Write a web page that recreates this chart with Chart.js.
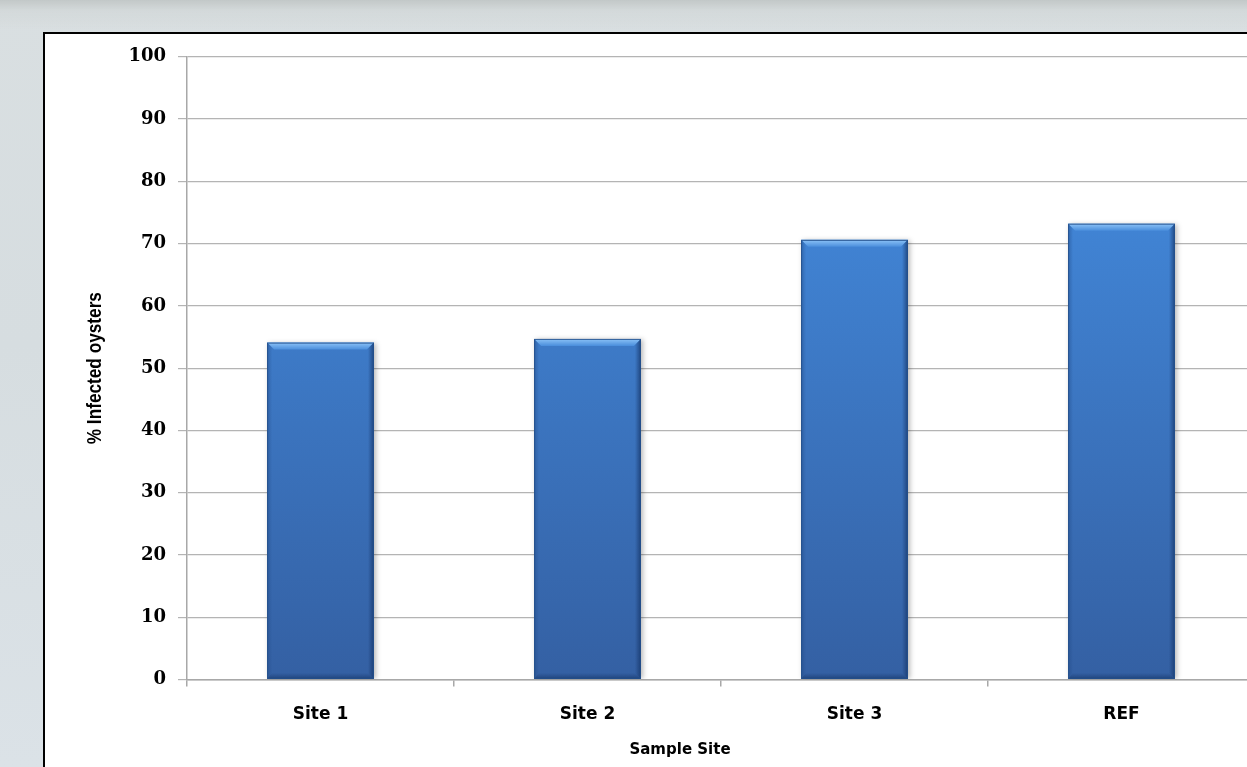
<!DOCTYPE html>
<html>
<head>
<meta charset="utf-8">
<script src="https://cdn.jsdelivr.net/npm/chart.js@4.4.1/dist/chart.umd.min.js"></script>
<style>
  html, body { margin: 0; padding: 0; width: 1247px; height: 767px; overflow: hidden; }
  body {
    background:
      linear-gradient(to bottom, rgba(175,180,178,0.55) 0px, rgba(200,205,204,0.35) 10px, rgba(220,226,228,0) 30px),
      linear-gradient(to bottom, #d9dfe1 0%, #d6dde0 45%, #dbe2e7 100%);
  }
  #panel {
    position: absolute; left: 43px; top: 32px;
    border: 2px solid #000; border-right: none; border-bottom: none;
    background: #fff;
    width: 1230px; height: 740px;
  }
  canvas { display: block; }
</style>
</head>
<body>
<div id="panel"><canvas id="c" width="1230" height="740"></canvas></div>
<script>
// Share of infected oysters per sampling site
const categories = ['Site 1', 'Site 2', 'Site 3', 'REF'];
const infectedPct = [54.1, 54.7, 70.6, 73.2];
const yMin = 0, yMax = 100, yStep = 10;
const xTitle = 'Sample Site';
const yTitle = '% Infected oysters';

// fill gradient for the bars (lighter blue at top, deeper blue at base)
function barFill(ctx) {
  const area = ctx.chart.chartArea;
  if (!area) return '#3b74c0';
  const g = ctx.chart.ctx.createLinearGradient(0, area.top + 150, 0, area.bottom);
  g.addColorStop(0, '#4185d6');
  g.addColorStop(1, '#3460a3');
  return g;
}

// soft shadow under bars + bevelled edges drawn on top of each bar element
const bevelPlugin = {
  id: 'bevel',
  beforeDatasetsDraw(chart) {
    const c = chart.ctx;
    c.save();
    c.shadowColor = 'rgba(0,0,0,0.28)';
    c.shadowBlur = 5;
    c.shadowOffsetX = 2;
    c.shadowOffsetY = 0;
  },
  afterDatasetsDraw(chart) {
    const c = chart.ctx;
    c.restore();
    const meta = chart.getDatasetMeta(0);
    meta.data.forEach(bar => {
      const { x, y, base, width } = bar.getProps(['x', 'y', 'base', 'width'], true);
      const l = x - width / 2, r = x + width / 2, t = y, b = base;
      const bv = 7;
      c.save();
      // top bevel
      let g = c.createLinearGradient(0, t, 0, t + bv);
      g.addColorStop(0, '#8cc3f7');
      g.addColorStop(1, '#4a8edc');
      c.fillStyle = g;
      c.beginPath();
      c.moveTo(l, t); c.lineTo(r, t); c.lineTo(r - bv, t + bv); c.lineTo(l + bv, t + bv); c.closePath();
      c.fill();
      // left bevel
      g = c.createLinearGradient(l, 0, l + 5, 0);
      g.addColorStop(0, 'rgba(30,70,130,0.45)');
      g.addColorStop(1, 'rgba(30,70,130,0)');
      c.fillStyle = g;
      c.beginPath();
      c.moveTo(l, t); c.lineTo(l + bv, t + bv); c.lineTo(l + 5, b - 5); c.lineTo(l, b); c.closePath();
      c.fill();
      // right bevel
      g = c.createLinearGradient(r, 0, r - 6, 0);
      g.addColorStop(0, 'rgba(20,50,100,0.7)');
      g.addColorStop(1, 'rgba(20,50,100,0)');
      c.fillStyle = g;
      c.beginPath();
      c.moveTo(r, t); c.lineTo(r - bv, t + bv); c.lineTo(r - 6, b - 6); c.lineTo(r, b); c.closePath();
      c.fill();
      // bottom bevel
      g = c.createLinearGradient(0, b, 0, b - 6);
      g.addColorStop(0, 'rgba(20,50,100,0.6)');
      g.addColorStop(1, 'rgba(20,50,100,0)');
      c.fillStyle = g;
      c.beginPath();
      c.moveTo(l, b); c.lineTo(r, b); c.lineTo(r - 6, b - 6); c.lineTo(l + 5, b - 6); c.closePath();
      c.fill();
      // outline
      c.strokeStyle = 'rgba(35,80,140,0.9)';
      c.lineWidth = 1;
      c.strokeRect(l + 0.5, t + 0.5, width - 1, b - t - 1);
      c.restore();
    });
  }
};

// axis titles: x title under the panel, y title in a narrow bold face
const titlesPlugin = {
  id: 'axisTitles',
  afterDraw(chart) {
    const c = chart.ctx;
    const area = chart.chartArea;
    c.save();
    c.fillStyle = '#000';
    c.font = 'bold 15px "DejaVu Sans"';
    c.textAlign = 'center';
    c.textBaseline = 'alphabetic';
    c.fillText(xTitle, 635, 720);
    c.restore();

    c.save();
    c.translate(50, (area.top + area.bottom) / 2);
    c.rotate(-Math.PI / 2);
    c.scale(0.82, 1);
    c.fillStyle = '#000';
    c.font = 'bold 21px "Liberation Sans", Arial, sans-serif';
    c.textAlign = 'center';
    c.textBaseline = 'middle';
    c.fillText(yTitle, 0, 0);
    c.restore();
  }
};

new Chart(document.getElementById('c'), {
  type: 'bar',
  data: {
    labels: categories,
    datasets: [{
      data: infectedPct,
      backgroundColor: barFill,
      borderWidth: 0,
      barPercentage: 0.4,
      categoryPercentage: 1.0
    }]
  },
  options: {
    responsive: false,
    animation: false,
    events: [],
    layout: { padding: { top: 22, right: 20, bottom: 0, left: 0 } },
    plugins: { legend: { display: false }, tooltip: { enabled: false } },
    scales: {
      x: {
        grid: { drawOnChartArea: false, drawTicks: true, tickLength: 7, color: '#a8a8a8', lineWidth: 1.5, offset: true },
        border: { color: '#a8a8a8', width: 1.5 },
        ticks: { color: '#000', padding: 18, font: { family: '"DejaVu Sans"', weight: 'bold', size: 17 } },
        afterFit(scale) { scale.height = 94.5; }
      },
      y: {
        min: yMin, max: yMax,
        grid: { color: '#b4b4b4', lineWidth: 1.2, tickLength: 9 },
        border: { color: '#a8a8a8', width: 1.5 },
        ticks: { stepSize: yStep, color: '#000', padding: 12, font: { family: '"DejaVu Serif"', weight: 'bold', size: 18 } },
        afterFit(scale) { scale.width = 142; }
      }
    }
  },
  plugins: [bevelPlugin, titlesPlugin]
});
</script>
</body>
</html>
